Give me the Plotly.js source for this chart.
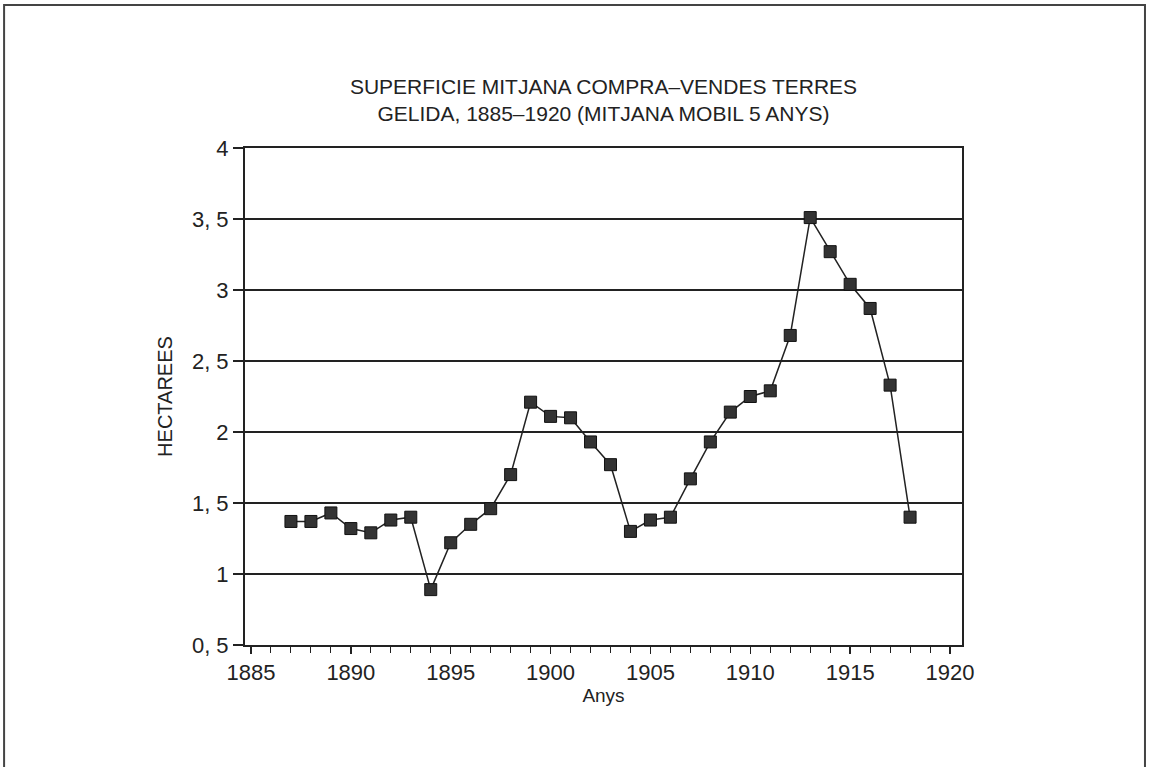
<!DOCTYPE html>
<html>
<head>
<meta charset="utf-8">
<script src="https://cdn.plot.ly/plotly-3.0.1.min.js"></script>
<style>html,body{margin:0;padding:0;background:#fff;}#chart{width:1152px;height:767px;}</style>
</head>
<body>
<div id="chart"></div>
<script>
const years = [1887,1888,1889,1890,1891,1892,1893,1894,1895,1896,1897,1898,1899,1900,1901,1902,1903,1904,1905,1906,1907,1908,1909,1910,1911,1912,1913,1914,1915,1916,1917,1918];
const hectarees = [1.37,1.37,1.43,1.32,1.29,1.38,1.40,0.89,1.22,1.35,1.46,1.70,2.21,2.11,2.10,1.93,1.77,1.30,1.38,1.40,1.67,1.93,2.14,2.25,2.29,2.68,3.51,3.27,3.04,2.87,2.33,1.40];
const yTickVals = [0.5,1,1.5,2,2.5,3,3.5,4];
const yTickText = ['0, 5','1','1, 5','2','2, 5','3','3, 5','4'];
const xTickVals = [1885,1890,1895,1900,1905,1910,1915,1920];
const titleText = 'SUPERFICIE MITJANA COMPRA\u2013VENDES TERRES<br>GELIDA, 1885\u20131920 (MITJANA MOBIL 5 ANYS)';
const xTitle = 'Anys';
const yTitle = 'HECTAREES';

const FONT = 'Liberation Sans, Arial, sans-serif';
const INK = '#222';

const trace = {
  x: years, y: hectarees, type: 'scatter', mode: 'lines+markers',
  line: {color: INK, width: 1.5},
  marker: {symbol: 'square', size: 12, color: '#333', line: {color: '#111', width: 1}},
  hoverinfo: 'x+y'
};

const layout = {
  width: 1152, height: 767,
  paper_bgcolor: '#fff', plot_bgcolor: '#fff',
  margin: {l: 245, r: 190, t: 148, b: 122},
  showlegend: false,
  font: {family: FONT, color: INK},
  title: {text: titleText, x: 0.5, xref: 'paper', y: 0.878, yanchor: 'middle',
          font: {family: FONT, size: 21, color: INK}},
  xaxis: {
    range: [1884.7, 1920.6], tickvals: xTickVals, ticktext: xTickVals.map(String),
    showgrid: false, zeroline: false,
    showline: true, linecolor: INK, linewidth: 2, mirror: true,
    ticks: 'outside', ticklen: 7, tickwidth: 1.5, tickcolor: INK,
    minor: {dtick: 1, tick0: 1885, ticks: 'outside', ticklen: 6, tickwidth: 1, tickcolor: INK},
    tickfont: {family: FONT, size: 22, color: INK},
    title: {text: xTitle, font: {family: FONT, size: 19, color: INK}, standoff: 4}
  },
  yaxis: {
    range: [0.5, 4], tickvals: yTickVals, ticktext: yTickText,
    showgrid: true, gridcolor: INK, gridwidth: 2, zeroline: false,
    showline: true, linecolor: INK, linewidth: 2, mirror: true,
    ticks: 'outside', ticklen: 10, tickwidth: 1.5, tickcolor: INK,
    tickfont: {family: FONT, size: 22, color: INK},
    title: {text: yTitle, font: {family: FONT, size: 20, color: INK}, standoff: 14}
  },
  shapes: [{
    type: 'rect', xref: 'paper', yref: 'paper',
    x0: -0.336, x1: 1.2552, y0: -0.26, y1: 1.2877,
    line: {color: '#444', width: 2}, fillcolor: 'rgba(0,0,0,0)', layer: 'below'
  }]
};

Plotly.newPlot('chart', [trace], layout, {displayModeBar: false, staticPlot: true});
</script>
</body>
</html>
